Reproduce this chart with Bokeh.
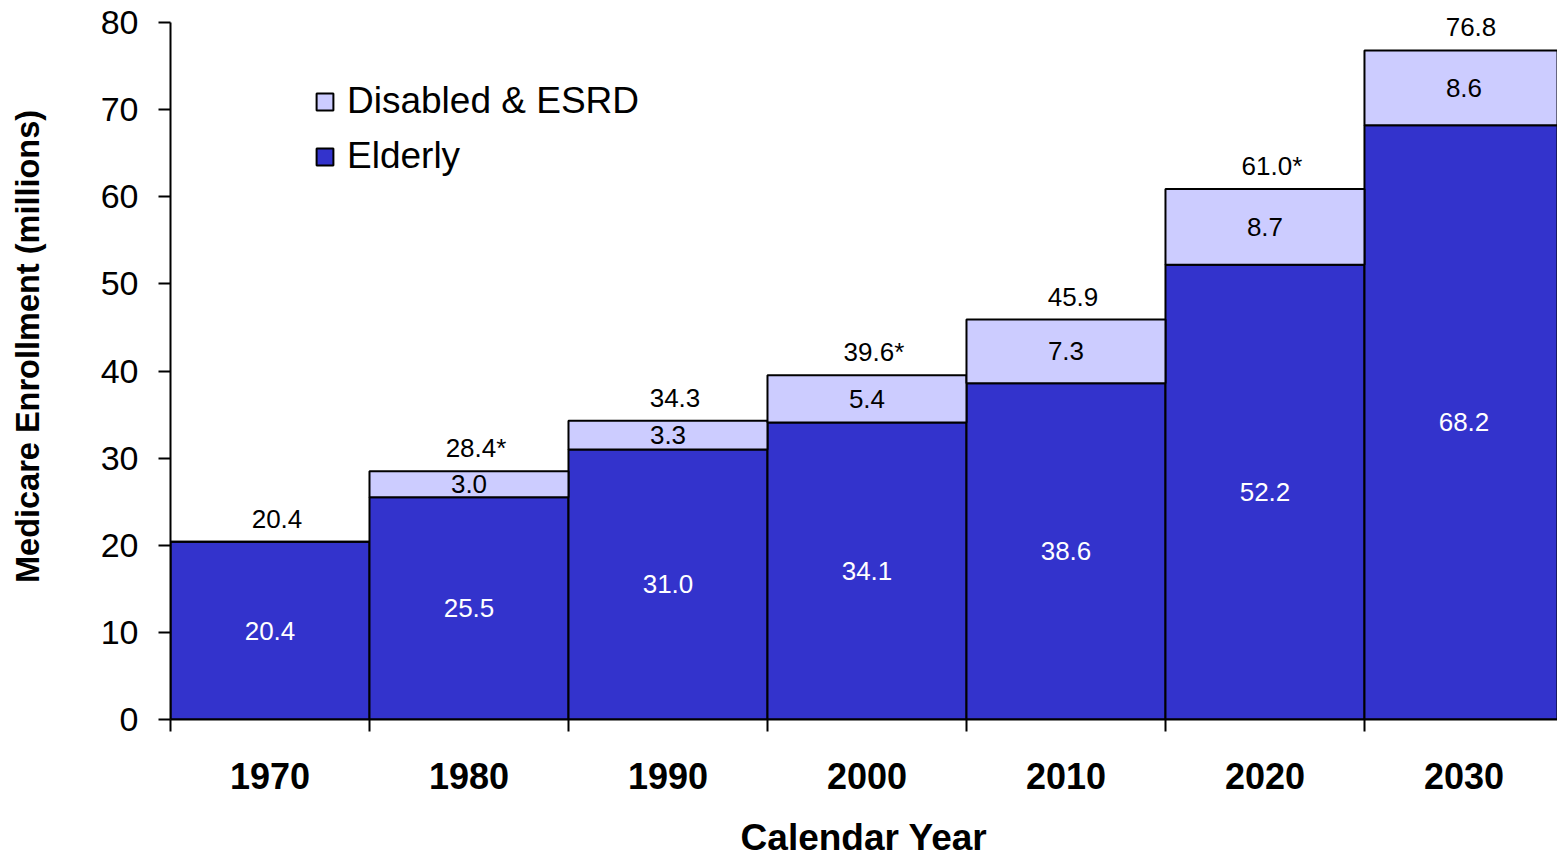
from bokeh.plotting import figure
from bokeh.models import (ColumnDataSource, Range1d, FixedTicker, Legend, LegendItem)
from bokeh.core.properties import value
from bokeh.embed import file_html
from bokeh.resources import INLINE

# ---- data ----
years = ["1970", "1980", "1990", "2000", "2010", "2020", "2030"]
elderly = [20.4, 25.5, 31.0, 34.1, 38.6, 52.2, 68.2]
disabled = [0.0, 3.0, 3.3, 5.4, 7.3, 8.7, 8.6]
total_labels = ["20.4", "28.4*", "34.3", "39.6*", "45.9", "61.0*", "76.8"]
y_ticks = [0, 10, 20, 30, 40, 50, 60, 70, 80]
y_title = "Medicare Enrollment (millions)"
x_title = "Calendar Year"

FONT = "Liberation Sans"
ELD_COLOR = "#3333CC"
DIS_COLOR = "#CCCCFF"

n = len(years)
xs = [i + 0.5 for i in range(n)]
totals = [e + d for e, d in zip(elderly, disabled)]
src = ColumnDataSource(dict(
    x=xs,
    elderly=elderly,
    disabled=disabled,
    total=totals,
    eld_mid=[e / 2 for e in elderly],
    dis_mid=[e + d / 2 for e, d in zip(elderly, disabled)],
    eld_lab=[f"{e:.1f}" for e in elderly],
    dis_lab=[f"{d:.1f}" if d > 0 else "" for d in disabled],
    tot_lab=total_labels,
))

# frame spans page y 0..719; value 80 sits at y=22
Y_TOP = 80 + 22 * 80 / 697

p = figure(width=1557, height=861, output_backend="svg", toolbar_location=None,
           x_range=Range1d(0, 6.97), y_range=Range1d(0, Y_TOP),
           min_border_left=170, min_border_right=0, min_border_top=0,
           min_border_bottom=142)
p.outline_line_color = None
p.xgrid.visible = False
p.ygrid.visible = False

r_eld = p.vbar(x="x", width=1.0, bottom=0, top="elderly", source=src,
               fill_color=ELD_COLOR, line_color="black", line_width=2)
r_dis = p.vbar(x="x", width=1.0, bottom="elderly", top="total", source=src,
               fill_color=DIS_COLOR, line_color="black", line_width=2)

p.text(x="x", y="eld_mid", text="eld_lab", source=src, text_color="white",
       text_font=value(FONT), text_font_size="26px", text_align="center",
       text_baseline="middle")
p.text(x="x", y="dis_mid", text="dis_lab", source=src, text_color="black",
       text_font=value(FONT), text_font_size="26px", text_align="center",
       text_baseline="middle")
p.text(x="x", y="total", text="tot_lab", source=src, text_color="black",
       text_font=value(FONT), text_font_size="26px", text_align="center",
       text_baseline="middle", y_offset=-23, x_offset=7)

# y axis
ya = p.yaxis[0]
ya.bounds = (0, 80)
ya.ticker = FixedTicker(ticks=y_ticks)
ya.axis_line_color = "black"
ya.axis_line_width = 2
ya.major_tick_line_width = 2
ya.major_tick_out = 12
ya.major_tick_in = 0
ya.minor_tick_line_color = None
ya.major_label_text_font = FONT
ya.major_label_text_font_size = "34px"
ya.major_label_text_color = "black"
ya.major_label_standoff = 20
# leading no-break spaces shift the centred (rotated) title upward, as in the reference
ya.axis_label = "\u00a0" * 3 + y_title
ya.axis_label_text_font = FONT
ya.axis_label_text_font_size = "32.5px"
ya.axis_label_text_font_style = "bold"
ya.axis_label_text_color = "black"
ya.axis_label_standoff = 52

# x axis
xa = p.xaxis[0]
xa.ticker = FixedTicker(ticks=xs, minor_ticks=list(range(n + 1)))
xa.major_label_overrides = {x: y for x, y in zip(xs, years)}
xa.axis_line_color = "black"
xa.axis_line_width = 2
xa.major_tick_line_color = None
xa.minor_tick_line_color = "black"
xa.minor_tick_line_width = 2
xa.minor_tick_out = 12
xa.minor_tick_in = 0
xa.major_label_text_font = FONT
xa.major_label_text_font_size = "36px"
xa.major_label_text_font_style = "bold"
xa.major_label_text_color = "black"
xa.major_label_standoff = 31
xa.axis_label = x_title
xa.axis_label_text_font = FONT
xa.axis_label_text_font_size = "37px"
xa.axis_label_text_font_style = "bold"
xa.axis_label_text_color = "black"
xa.axis_label_standoff = 25

legend = Legend(items=[LegendItem(label="Disabled & ESRD", renderers=[r_dis]),
                       LegendItem(label="Elderly", renderers=[r_eld])],
                location=(144, 542))
legend.background_fill_alpha = 0
legend.border_line_color = None
legend.label_text_font = FONT
legend.label_text_font_size = "37px"
legend.label_text_color = "black"
legend.glyph_width = 21
legend.glyph_height = 21
legend.label_standoff = 12
legend.spacing = 13
legend.padding = 0
legend.margin = 0
p.add_layout(legend, "center")

open("out.html", "w").write(file_html(p, INLINE))
